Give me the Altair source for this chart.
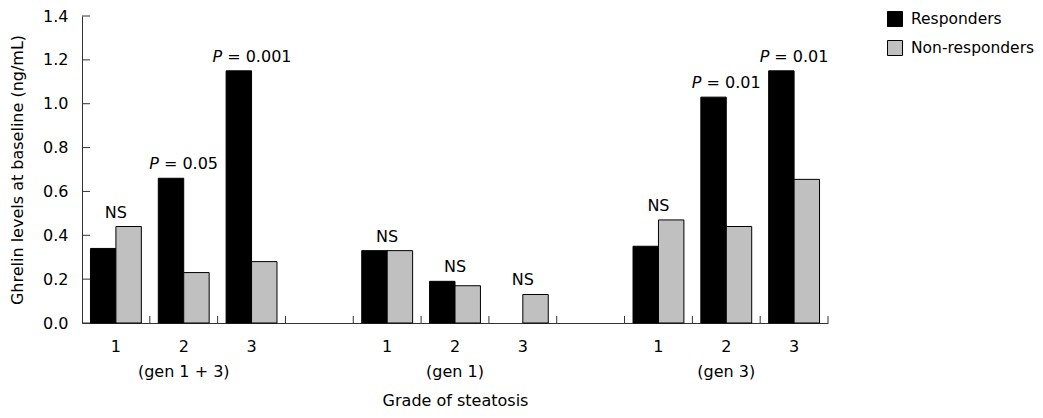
import altair as alt
import pandas as pd

# ---- data ----
groups = ["(gen 1 + 3)", "(gen 1)", "(gen 3)"]
grades = ["1", "2", "3"]
series = ["Responders", "Non-responders"]
responders = [0.34, 0.66, 1.15, 0.33, 0.19, None, 0.35, 1.03, 1.15]
non_responders = [0.44, 0.23, 0.28, 0.33, 0.17, 0.13, 0.47, 0.44, 0.655]
annotations = ["NS", "P = 0.05", "P = 0.001", "NS", "NS", "NS", "NS", "P = 0.01", "P = 0.01"]
y_ticks = [0.0, 0.2, 0.4, 0.6, 0.8, 1.0, 1.2, 1.4]
x_title = "Grade of steatosis"
y_title = "Ghrelin levels at baseline (ng/mL)"

FONT = "DejaVu Sans"
W, H = 746, 307

# ---- tables built from the arrays ----
slots = []
cells = []
for gi, g in enumerate(groups):
    for gr in grades:
        slots.append(f"g{gi}-{gr}")
        cells.append((gi, gr, f"g{gi}-{gr}"))
    if gi < len(groups) - 1:
        slots.append(f"gap{gi}")

bar_rows, ann_rows = [], []
for i, (gi, gr, slot) in enumerate(cells):
    for s, vals in zip(series, [responders, non_responders]):
        if vals[i] is not None:
            bar_rows.append({"slot": slot, "series": s, "value": vals[i]})
    top = max(v for v in [responders[i], non_responders[i]] if v is not None)
    txt = annotations[i]
    is_p = txt.startswith("P")
    ann_rows.append({"slot": slot, "value": top, "p": "P" if is_p else "",
                     "rest": txt[2:] if is_p else txt})
bars_df = pd.DataFrame(bar_rows)
ann_df = pd.DataFrame(ann_rows)
slot_df = pd.DataFrame({"slot": slots})
tick_df = pd.DataFrame({"value": y_ticks})
grp_df = pd.DataFrame({"slot": [f"g{gi}-2" for gi in range(len(groups))], "label": groups})

AX = "#333333"
x_scale = alt.Scale(domain=slots, paddingInner=0, paddingOuter=0)
y_scale = alt.Scale(domain=[0, 1.4], nice=False)
x_axis = alt.Axis(
    title=x_title, ticks=False, tickSize=0, labelPadding=15, labelAngle=0,
    labelExpr="indexof(datum.value, '-') > 0 ? split(datum.value, '-')[1] : ''",
    titleY=77, titleBaseline="middle", domainColor=AX, grid=False,
)
y_axis = alt.Axis(
    title=y_title, values=y_ticks, format=".1f", ticks=False, tickSize=0,
    labelPadding=14, titleX=-65, titleBaseline="middle", domainColor=AX, grid=False,
)
X = alt.X("slot:N", scale=x_scale, axis=x_axis)
Y = alt.Y("value:Q", scale=y_scale, axis=y_axis)

bars = alt.Chart(bars_df).mark_bar(stroke="#000000", strokeWidth=1).encode(
    x=X,
    xOffset=alt.XOffset("series:N", sort=series,
                        scale=alt.Scale(domain=series, paddingInner=0, paddingOuter=0.333)),
    y=Y,
    color=alt.Color("series:N", sort=series,
                    scale=alt.Scale(domain=series, range=["#000000", "#c0c0c0"]),
                    legend=alt.Legend(title=None, orient="none", legendX=805, legendY=-5,
                                      symbolType="square", symbolSize=225,
                                      symbolStrokeColor="#000000", symbolStrokeWidth=1,
                                      labelFont=FONT, labelFontSize=15.5, labelColor="#000000",
                                      labelOffset=8, rowPadding=9, padding=0)),
)

x_ticks = alt.Chart(slot_df).mark_rule(color=AX, strokeWidth=1).encode(
    x=alt.X("slot:N", scale=x_scale, axis=x_axis, bandPosition=1),
    y=alt.value(H - 7), y2=alt.value(H),
)
y_tick_marks = alt.Chart(tick_df).mark_rule(color=AX, strokeWidth=1).encode(
    y=Y, x=alt.value(0), x2=alt.value(8),
)

text_base = alt.Chart(ann_df)
ns_text = text_base.transform_filter("datum.p == ''").mark_text(
    font=FONT, fontSize=16, baseline="alphabetic", dy=-9, color="#000000"
).encode(x=X, y=Y, text="rest:N")
p_rest = text_base.transform_filter("datum.p != ''").mark_text(
    font=FONT, fontSize=16, baseline="alphabetic", dy=-9, align="left", color="#000000",
    dx={"expr": "-(15 + length(datum.rest) * 9.1) / 2 + 15"},
).encode(x=X, y=Y, text="rest:N")
p_letter = text_base.transform_filter("datum.p != ''").mark_text(
    font=FONT, fontSize=16, fontStyle="italic", baseline="alphabetic", dy=-9, align="right",
    color="#000000",
    dx={"expr": "-(15 + length(datum.rest) * 9.1) / 2 + 10"},
).encode(x=X, y=Y, text="p:N")

grp_text = alt.Chart(grp_df).mark_text(
    font=FONT, fontSize=16, baseline="middle", color="#000000"
).encode(x=X, y=alt.value(H + 49), text="label:N")

chart = alt.layer(bars, x_ticks, y_tick_marks, ns_text, p_rest, p_letter, grp_text).properties(
    width=W, height=H,
    padding={"left": 74, "top": 8, "right": 207, "bottom": 87},
    autosize=alt.AutoSizeParams(type="none"),
).configure_view(stroke=None).configure_axis(
    labelFont=FONT, labelFontSize=16, labelColor="#000000",
    titleFont=FONT, titleFontSize=16, titleFontWeight="normal", titleColor="#000000",
)

chart.save("out.html", embed_options={"renderer": "svg", "actions": False})
